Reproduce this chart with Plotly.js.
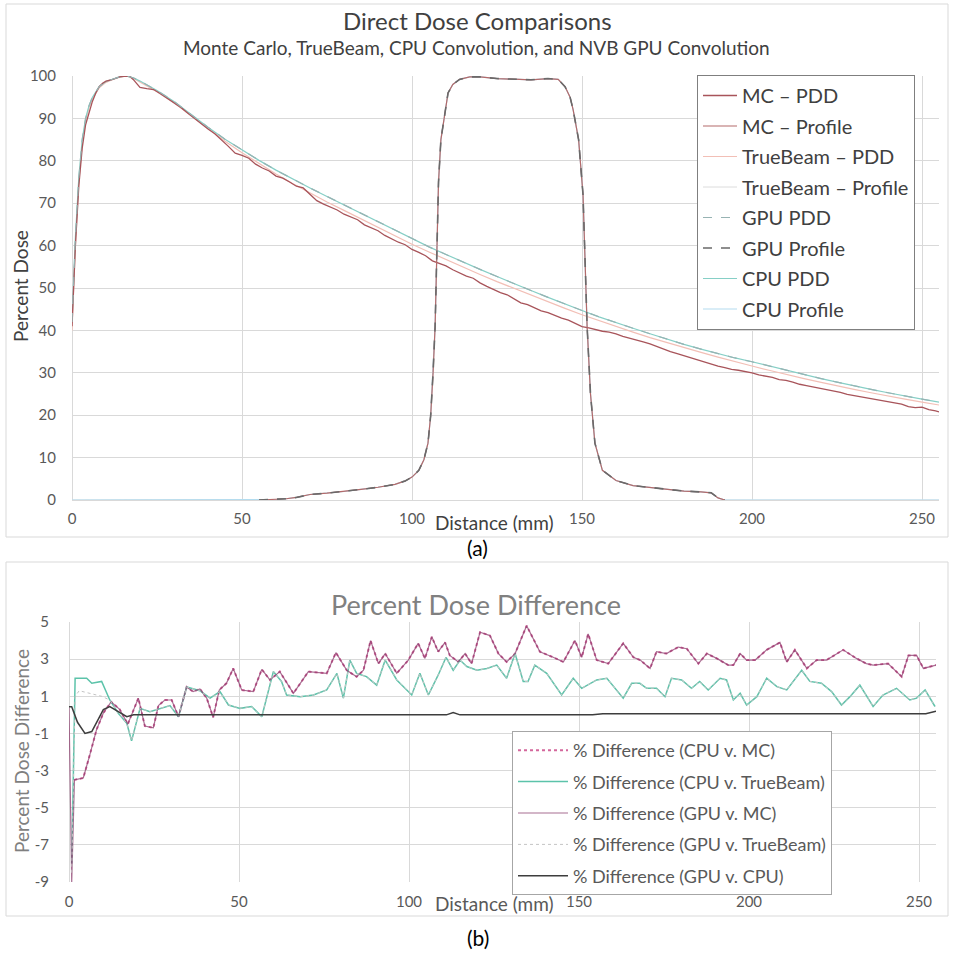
<!DOCTYPE html>
<html>
<head>
<meta charset="utf-8">
<script src="https://cdn.plot.ly/plotly-3.0.1.min.js"></script>
<style>html,body{margin:0;padding:0;background:#fff;}#chart{width:954px;height:954px;}</style>
</head>
<body>
<div id="chart"></div>
<script>
// ---------- Top chart (a): Direct Dose Comparisons ----------
const mcPddX = [0,1,2,3,4,5,6,7,8,9,10,12,14,16,17,18,19,20,
  22,24,26,28,30,32,34,36,38,40,42,44,46,48,50,52,54,56,58,60,
  62,64,66,68,70,72,74,76,78,80,82,84,86,88,90,92,94,96,98,100,
  102,104,106,108,110,112,114,116,118,120,122,124,126,128,130,132,134,136,138,140,
  142,144,146,148,150,152,154,156,158,160,162,164,166,168,170,172,174,176,178,180,
  182,184,186,188,190,192,194,196,198,200,202,204,206,208,210,212,214,216,218,220,
  222,224,226,228,230,232,234,236,238,240,242,244,246,248,250,252,254,255];
const mcPdd = [41,60,74,83,88.5,91.5,94,96,97.5,98.3,98.8,99.2,99.8,100,99.9,99.2,98.2,97.3,
  97.0,96.8,95.8,94.8,93.6,92.6,91.3,90.0,88.6,87.5,86.4,85.0,83.4,81.8,81.3,80.6,79.2,78.3,77.6,76.4,
  75.9,75.0,74.0,73.6,72.2,70.6,69.8,69.1,68.4,67.4,66.7,66.1,64.9,64.2,63.5,62.4,61.6,60.8,60.2,59.1,
  58.4,57.6,56.4,55.8,55.2,54.3,53.5,52.8,52.3,51.2,50.4,49.6,48.9,48.4,47.4,46.5,46.1,45.3,44.6,44.2,
  43.5,42.9,42.4,41.6,40.9,40.6,40.2,39.8,39.6,39.2,38.6,38.2,37.8,37.3,36.8,36.2,35.5,35.0,34.5,34.0,
  33.5,33.0,32.5,32.0,31.6,31.2,30.8,30.6,30.3,30.0,29.5,29.2,28.9,28.4,28.2,27.8,27.3,27.0,26.7,26.4,
  26.0,25.8,25.4,24.9,24.6,24.4,24.1,23.7,23.4,23.1,22.8,22.6,22.0,21.8,21.9,21.3,21.0,20.8];

const calcPddX = [0,1,2,3,4,5,6,8,10,12,14,16,18,20,
  25,30,35,40,45,50,55,60,65,70,75,80,85,90,95,100,105,110,115,120,125,130,135,140,145,150,
  155,160,165,170,175,180,185,190,195,200,205,210,215,220,225,230,235,240,245,250,255];
const cpuPdd = [42,62,76,85,90,93,95,97.5,98.7,99.3,99.8,100,99.6,98.8,
  96.6,94.0,90.9,87.9,85.1,82.5,80.1,77.8,75.6,73.6,71.6,69.6,67.6,65.6,63.6,61.6,
  59.7,57.9,56.1,54.4,52.7,51.0,49.4,47.8,46.2,44.7,43.2,41.8,40.5,39.2,37.9,36.7,
  35.6,34.5,33.5,32.6,31.6,30.6,29.6,28.7,27.8,26.9,26.1,25.3,24.5,23.8,23.1];
const gpuPdd = [42,62,76,85,90,93,95,97.5,98.7,99.3,99.8,100,99.6,98.8,
  96.6,94.0,90.9,87.9,85.1,82.5,80.1,77.8,75.6,73.6,71.6,69.6,67.6,65.6,63.6,61.6,
  59.7,57.9,56.1,54.4,52.7,51.0,49.4,47.8,46.2,44.7,43.2,41.8,40.5,39.2,37.9,36.7,
  35.6,34.5,33.5,32.6,31.6,30.6,29.6,28.7,27.8,26.9,26.1,25.3,24.5,23.8,23.1];
const tbPdd = [40,60,75,84,89.5,92.5,94.6,97.2,98.5,99.2,99.7,100,99.5,98.6,
  96.3,93.7,90.6,87.5,84.6,81.9,79.3,76.9,74.6,72.4,70.3,68.3,66.3,64.3,62.3,60.3,
  58.5,56.7,54.9,53.2,51.5,49.9,48.3,46.7,45.2,43.7,42.3,40.9,39.6,38.3,37.1,35.9,
  34.8,33.7,32.6,31.6,30.6,29.6,28.7,27.8,26.9,26.1,25.3,24.5,23.8,23.1,22.4];

const profX = [0,55,60,63,66,70,75,80,85,90,
  95,98,100,102,103.5,104.7,105.5,106.2,106.8,107.3,
  107.8,108.5,109.7,110.6,112,114,117,120,125,130,
  135,140,143,145,146.5,147.4,149,150.3,151,151.5,
  152.5,153.8,156,160,165,170,175,180,185,188,
  190,192,200,255];
const profDose = [0,0,0.1,0.3,0.6,1.3,1.6,2.0,2.5,3.0,
  3.7,4.5,5.4,7,9.5,13.4,20,30,41,58,
  75,85,92,96,98,99.2,99.8,99.8,99.4,99.3,
  99.1,99.4,99.2,97.5,95,92,85,72,55,41,
  25,13.4,7,4.6,3.4,3.0,2.5,2.1,1.9,1.7,
  0.5,0,0,0];

// ---------- Bottom chart (b): Percent Dose Difference ----------
const cpuMcX = [1.5,4.2,6.2,8.1,10.1,12.4,14.9,17.3,20.4,22.3,
  24.8,26.3,28.2,30.2,32.2,34.6,36.5,38.5,40.5,42.4,
  44.2,46.3,48.3,50.8,54.2,56.7,59.1,62,66,70.4,
  75.8,78.5,81.7,84.6,86.6,88.7,91,93,96.4,99.8,
  102.7,104.7,106.7,108.6,110.6,112,114.5,116.5,118.4,120.9,
  123.8,126.3,128.7,131.2,134.6,138.5,142.4,145.4,148.8,150.8,
  152.7,155.2,158.6,163,166,168,170.9,172.8,175.7,179.2,
  181.7,185.1,187.6,190.5,193.9,195.4,197.4,199.3,201.8,205.2,
  209.1,211.1,213.5,217,219.9,222.8,227.7,231.6,234.5,236.5,
  240.9,244.9,246.9,249.3,251.3,255];
const cpuMc = [-3.5,-3.4,-2.1,-0.8,0.1,0.7,0.3,-0.5,0.9,-0.6,
  -0.7,0.5,0.8,0.8,-0.1,1.5,1.25,1.4,0.9,-0.13,
  1.34,1.7,2.5,1.34,1.25,2.45,1.88,2.33,1.16,2.33,
  2.23,3.35,2.4,2.05,2.4,4.0,2.76,3.3,2.24,2.95,
  3.85,3.04,4.2,3.4,3.9,3.2,2.85,3.3,2.76,4.45,
  4.27,3.3,2.85,3.3,4.8,3.4,3.1,2.85,4.0,3.1,
  4.36,2.95,2.76,3.85,3.1,2.95,2.5,3.4,3.3,3.65,
  3.56,2.76,3.3,3.04,2.68,2.68,3.3,2.95,2.95,3.5,
  3.9,2.85,3.5,2.5,2.95,2.95,3.5,3.04,2.76,2.68,
  2.76,2.06,3.2,3.2,2.5,2.68];
const gpuMcHeadX = [0,0.8,1.6];
const gpuMcHead = [0.4,-9,-3.5];

const cpuTbX = [0.8,1.8,5.2,6.7,9.6,12,14.5,17,18.4,20.9,
  23.8,26.8,29.7,32.2,34.6,38.5,41.5,44.4,46.9,50.3,
  53.7,56.7,60.1,62.5,64,68,71.9,75.8,78.8,80.7,
  82.6,84.6,87.5,90.5,93,96.4,100.8,103.2,105.7,108.6,
  110.9,113,115,117,120,122.9,125.8,128.7,131.2,133.6,
  135,137,140.5,144.9,148.3,150.8,155.2,158.2,163,165.5,
  167.9,169.9,172.8,175.3,177.2,180.2,183.1,185.5,188,191.5,
  193.4,195.4,197.4,199.3,202.3,205.2,208.2,211.1,215.5,217.9,
  221.3,224.3,227.2,229.7,232.6,236.5,239.4,243.4,247.3,249.3,
  251.8,254.7];
const cpuTb = [-8,1.97,1.97,1.7,1.8,0.8,0.08,-0.45,-1.4,0.35,
  0.17,0.35,0.5,-0.1,1.5,1.3,0.9,1.25,0.53,0.35,
  0.45,-0.1,2.33,1.8,1.07,0.98,1.07,1.34,2.23,0.9,
  2.95,2.23,2.06,1.6,2.95,1.88,1.07,2.24,1.07,2.15,
  3.1,2.4,2.95,2.6,2.4,2.5,2.68,1.97,3.3,1.8,
  1.8,2.68,2.24,1.07,1.97,1.43,1.88,1.97,0.9,1.7,
  1.7,1.43,1.43,0.98,1.97,1.88,1.43,1.8,1.34,1.97,
  1.88,0.8,1.16,0.53,0.98,1.97,1.52,1.34,2.4,1.8,
  1.7,1.25,0.53,0.98,1.6,0.45,1.07,1.43,0.8,0.9,
  1.34,0.45];
const gpuTbHeadX = [0.8,1.8,3,5,7,9.6,12];
const gpuTbHead = [-8.5,1.0,1.3,1.2,1.1,1.0,0.8];

const gpuCpuX = [0,0.8,2.5,4.7,6.7,8.5,10.1,12,15,17,19,30,60,100,111,113,115,120,154,157,200,252,255];
const gpuCpu = [0.44,0.44,-0.4,-1.0,-0.9,-0.3,0.28,0.44,0.1,-0.1,0,0,0,0,0,0.12,0,0,0,0.06,0.06,0.06,0.2];

const xTicks = [0,50,100,150,200,250];
const yTicksB = [-9,-7,-5,-3,-1,1,3,5];
const yTickTextB = ['-9','-7','-5','-3','-1','1','3','5'];

// ---------- build ----------
const gpuMcX = gpuMcHeadX.concat(cpuMcX.slice(1));
const gpuMc = gpuMcHead.concat(cpuMc.slice(1));
const gpuTbX = gpuTbHeadX.concat(cpuTbX.slice(6));
const gpuTb = gpuTbHead.concat(cpuTb.slice(6));
// measured / GPU profiles only span the field region (55..192 mm)
const profFieldX = profX.slice(1, 52);
const profFieldDose = profDose.slice(1, 52);

const F = 'Lato, "Open Sans", sans-serif';
const px = v => v / 954;
const py = v => 1 - v / 954;

function tr(name, x, y, color, width, dash, leg, rank) {
  return {type:'scatter', mode:'lines', name:name, x:x, y:y,
    xaxis: leg === 'legend' ? 'x' : 'x2', yaxis: leg === 'legend' ? 'y' : 'y2',
    line:{color:color, width:width, dash:dash}, legend:leg, legendgroup:'g' + rank,
    legendrank:rank, hoverinfo:'skip'};
}

// drawing order: light series first, dark series on top; legend order set by rank
const data = [
  tr('TrueBeam – PDD', calcPddX, tbPdd, '#f2bfb6', 1.2, 'solid', 'legend', 3),
  tr('CPU PDD', calcPddX, cpuPdd, '#86cfc6', 1.2, 'solid', 'legend', 7),
  tr('TrueBeam – Profile', profX, profDose, '#dcdcdc', 1, 'solid', 'legend', 4),
  tr('CPU Profile', profX, profDose, '#b3dcef', 1.2, 'solid', 'legend', 8),
  tr('MC – PDD', mcPddX, mcPdd, '#a8545a', 1.3, 'solid', 'legend', 1),
  tr('MC – Profile', profFieldX, profFieldDose, '#b46a6a', 1.2, 'solid', 'legend', 2),
  tr('GPU PDD', calcPddX, gpuPdd, '#97b3b3', 1.2, 'dash', 'legend', 5),
  tr('GPU Profile', profFieldX, profFieldDose, '#6a6a6a', 1.6, 'dash', 'legend', 6),

  tr('% Difference (CPU v. MC)', cpuMcX, cpuMc, '#d4679c', 2, 'dot', 'legend2', 11),
  tr('% Difference (CPU v. TrueBeam)', cpuTbX, cpuTb, '#5cc3aa', 1.5, 'solid', 'legend2', 12),
  tr('% Difference (GPU v. MC)', gpuMcX, gpuMc, 'rgba(140,62,110,0.75)', 1.2, 'solid', 'legend2', 13),
  tr('% Difference (GPU v. TrueBeam)', gpuTbX, gpuTb, '#c4c4c4', 1, 'dot', 'legend2', 14),
  tr('% Difference (GPU v. CPU)', gpuCpuX, gpuCpu, '#3d3d3d', 1.5, 'solid', 'legend2', 15)
];

const axBase = {showgrid:true, gridcolor:'#d9d9d9', gridwidth:1, zeroline:true, zerolinecolor:'#d9d9d9',
  zerolinewidth:1, showline:false, ticks:'', tickfont:{family:F, size:15, color:'#595959'}, fixedrange:true};

const layout = {
  width:954, height:954, margin:{l:0, r:0, t:0, b:0, pad:0},
  paper_bgcolor:'#ffffff', plot_bgcolor:'#ffffff',
  font:{family:F, color:'#595959'},
  showlegend:true,
  xaxis: Object.assign({}, axBase, {domain:[px(72), px(939)], range:[0,255], anchor:'y',
    tickvals:xTicks, ticklabelstandoff:8}),
  yaxis: Object.assign({}, axBase, {domain:[py(500), py(76)], range:[0,100], anchor:'x',
    tick0:0, dtick:10, ticklabelstandoff:15}),
  xaxis2: Object.assign({}, axBase, {domain:[px(69), px(936)], range:[0,255], anchor:'y2',
    tickvals:xTicks, ticklabelstandoff:9}),
  yaxis2: Object.assign({}, axBase, {domain:[py(882), py(622)], range:[-9,5], anchor:'x2',
    tickvals:yTicksB, ticktext:yTickTextB, ticklabelstandoff:19, zeroline:false}),
  legend:{x:px(697), y:py(75), xanchor:'left', yanchor:'top', bgcolor:'#ffffff',
    bordercolor:'#7f7f7f', borderwidth:1, font:{family:F, size:20, color:'#404040'},
    traceorder:'grouped', tracegroupgap:1.5, itemwidth:34},
  legend2:{x:px(512), y:py(731), xanchor:'left', yanchor:'top', bgcolor:'#ffffff',
    bordercolor:'#a6a6a6', borderwidth:1, font:{family:F, size:18, color:'#595959'},
    traceorder:'grouped', tracegroupgap:5, itemwidth:50},
  shapes:[
    {type:'rect', xref:'paper', yref:'paper', x0:px(6), x1:px(948), y0:py(537), y1:py(4),
      line:{color:'#d9d9d9', width:1}, layer:'below'},
    {type:'rect', xref:'paper', yref:'paper', x0:px(6), x1:px(948), y0:py(916), y1:py(562),
      line:{color:'#d9d9d9', width:1}, layer:'below'}
  ],
  annotations:[
    {text:'Direct Dose Comparisons', x:px(477), y:py(20), xref:'paper', yref:'paper', showarrow:false,
      xanchor:'center', yanchor:'middle', font:{family:F, size:24, color:'#404040'}},
    {text:'Monte Carlo, TrueBeam, CPU Convolution, and NVB GPU Convolution', x:px(476), y:py(48),
      xref:'paper', yref:'paper', showarrow:false, xanchor:'center', yanchor:'middle',
      font:{family:F, size:19, color:'#404040'}},
    {text:'Distance (mm)', x:px(494), y:py(522), xref:'paper', yref:'paper', showarrow:false,
      xanchor:'center', yanchor:'middle', font:{family:F, size:19, color:'#404040'}},
    {text:'Percent Dose', x:px(20), y:py(286), xref:'paper', yref:'paper', showarrow:false, textangle:-90,
      xanchor:'center', yanchor:'middle', font:{family:F, size:19, color:'#404040'}},
    {text:'(a)', x:px(478), y:py(547), xref:'paper', yref:'paper', showarrow:false,
      xanchor:'center', yanchor:'middle', font:{family:F, size:21, color:'#000000'}},
    {text:'Percent Dose Difference', x:px(476), y:py(604), xref:'paper', yref:'paper', showarrow:false,
      xanchor:'center', yanchor:'middle', font:{family:F, size:27, color:'#808080'}},
    {text:'Distance (mm)', x:px(494), y:py(903), xref:'paper', yref:'paper', showarrow:false,
      xanchor:'center', yanchor:'middle', font:{family:F, size:19, color:'#595959'}},
    {text:'Percent Dose Difference', x:px(21), y:py(751), xref:'paper', yref:'paper', showarrow:false,
      textangle:-90, xanchor:'center', yanchor:'middle', font:{family:F, size:19, color:'#7f7f7f'}},
    {text:'(b)', x:px(478), y:py(937), xref:'paper', yref:'paper', showarrow:false,
      xanchor:'center', yanchor:'middle', font:{family:F, size:21, color:'#000000'}}
  ]
};

Plotly.newPlot('chart', data, layout, {displayModeBar:false, staticPlot:true});
</script>
</body>
</html>
